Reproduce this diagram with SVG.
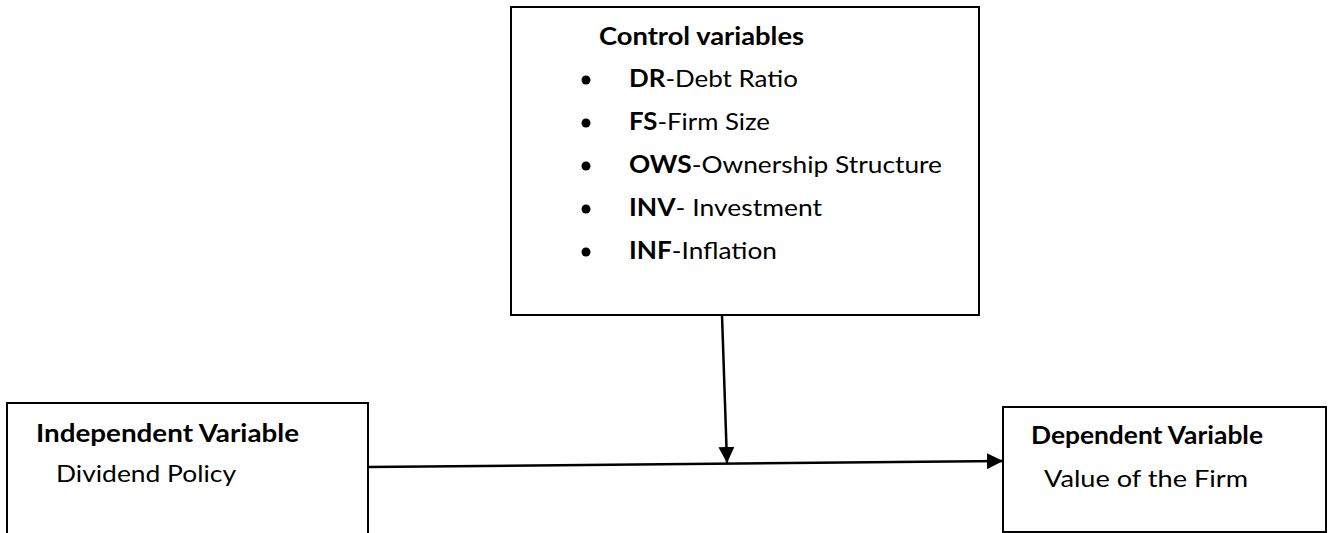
<svg xmlns="http://www.w3.org/2000/svg" width="1328" height="533" viewBox="0 0 1328 533">
<style>
.box{fill:#fff;stroke:#000;stroke-width:2}
.t{font-family:Lato,"Open Sans","Liberation Sans",sans-serif;font-size:24px;fill:#000}
.b{font-weight:bold}
.line{stroke:#000;stroke-width:2.5;fill:none}
</style>
<defs>
<marker id="arr" viewBox="0 0 16 16" refX="16" refY="8" markerWidth="16" markerHeight="16" markerUnits="userSpaceOnUse" orient="auto">
<path d="M0,0 L16,8 L0,16 Z" fill="#000"/>
</marker>
</defs>
<g id="control">
<rect class="box" x="511" y="7" width="468" height="308"/>
<text class="t b" x="599" y="45" textLength="205" lengthAdjust="spacingAndGlyphs">Control variables</text>
<circle cx="586" cy="80" r="4.5"/>
<text class="t" x="629" y="87" textLength="169" lengthAdjust="spacingAndGlyphs"><tspan class="b">DR</tspan>-Debt Ratio</text>
<circle cx="586" cy="123" r="4.5"/>
<text class="t" x="629" y="130" textLength="141" lengthAdjust="spacingAndGlyphs"><tspan class="b">FS</tspan>-Firm Size</text>
<circle cx="586" cy="166" r="4.5"/>
<text class="t" x="629" y="173" textLength="313" lengthAdjust="spacingAndGlyphs"><tspan class="b">OWS</tspan>-Ownership Structure</text>
<circle cx="586" cy="209" r="4.5"/>
<text class="t" x="629" y="216" textLength="193" lengthAdjust="spacingAndGlyphs"><tspan class="b">INV</tspan>- Investment</text>
<circle cx="586" cy="252" r="4.5"/>
<text class="t" x="629" y="259" textLength="148" lengthAdjust="spacingAndGlyphs"><tspan class="b">INF</tspan>-Inflation</text>
</g>
<g id="independent">
<rect class="box" x="7" y="403" width="361" height="140"/>
<text class="t b" x="36" y="442" textLength="263" lengthAdjust="spacingAndGlyphs">Independent Variable</text>
<text class="t" x="56" y="482" textLength="180" lengthAdjust="spacingAndGlyphs">Dividend Policy</text>
</g>
<g id="dependent">
<rect class="box" x="1003" y="407" width="323" height="125"/>
<text class="t b" x="1031" y="444" textLength="232" lengthAdjust="spacingAndGlyphs">Dependent Variable</text>
<text class="t" x="1044" y="487" textLength="204" lengthAdjust="spacingAndGlyphs">Value of the Firm</text>
</g>
<g id="connectors">
<line class="line" x1="368" y1="467" x2="1003" y2="461" marker-end="url(#arr)"/>
<line class="line" x1="722" y1="315" x2="727" y2="463" marker-end="url(#arr)"/>
</g>
</svg>
